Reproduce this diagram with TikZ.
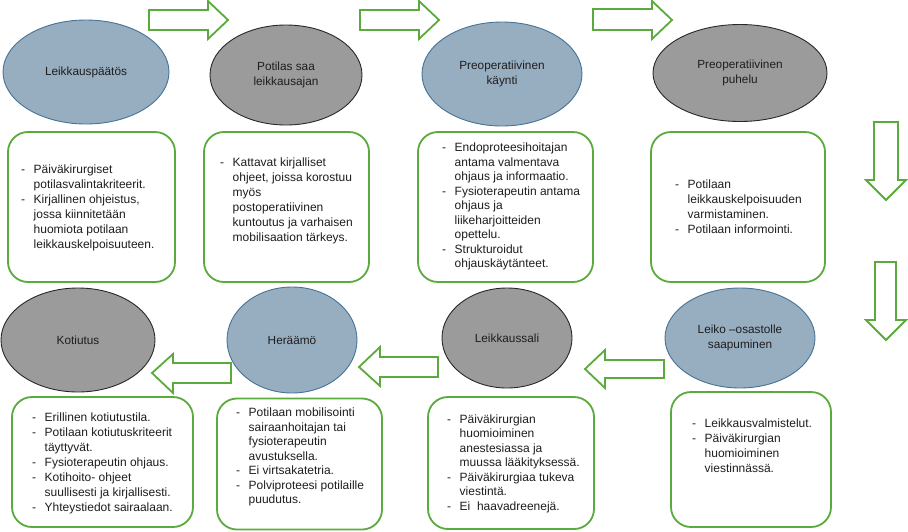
\documentclass[tikz,border=0pt]{standalone}
\usepackage{fontspec}
\setmainfont{Liberation Sans}
\usetikzlibrary{shapes.geometric}
\definecolor{bluefill}{RGB}{151,173,192}
\definecolor{bluedraw}{RGB}{70,115,150}
\definecolor{grayfill}{RGB}{155,155,155}
\definecolor{graydraw}{RGB}{40,40,40}
\definecolor{arrgreen}{RGB}{90,170,60}
\definecolor{txt}{RGB}{30,30,30}
\tikzset{
  ellblue/.style={ellipse, draw=bluedraw, fill=bluefill, line width=0.9pt, inner sep=0pt, align=center, text=txt, font=\fontsize{11.8}{15}\selectfont},
  ellgray/.style={ellipse, draw=graydraw, fill=grayfill, line width=0.9pt, inner sep=0pt, align=center, text=txt, font=\fontsize{11.8}{15}\selectfont},
  greenbox/.style={draw=arrgreen, line width=1.8pt, rounded corners=20pt, inner sep=0pt},
  txtblk/.style={anchor=west, inner sep=0pt, text=txt, font=\fontsize{12}{15}\selectfont},
  txtblkb/.style={anchor=west, inner sep=0pt, text=txt, font=\fontsize{12}{14.5}\selectfont},
  blockarr/.style={draw=arrgreen, line width=1.8pt, fill=white, line join=miter}
}
\newcommand{\tabstart}{\begin{tabular}{@{}l@{\hspace{8.5pt}}l@{}}}
\begin{document}
\begin{tikzpicture}[x=1pt, y=-1pt]
\useasboundingbox (0,0) rectangle (908,531);
\fill[white] (0,0) rectangle (908,531);

% ellipses
\node[ellblue, minimum width=166pt, minimum height=104pt] (e1) at (86,72) {Leikkauspäätös};
\node[ellgray, minimum width=152pt, minimum height=100pt] (e2) at (286,75) {Potilas saa\\leikkausajan};
\node[ellblue, minimum width=160pt, minimum height=104pt] (e3) at (502,74) {Preoperatiivinen\\käynti};
\node[ellgray, minimum width=174pt, minimum height=97pt] (e4) at (740,73) {Preoperatiivinen\\puhelu};
\node[ellgray, minimum width=154pt, minimum height=104pt] (e5) at (78,340) {Kotiutus};
\node[ellblue, minimum width=130pt, minimum height=106pt] (e6) at (292,340) {Heräämö};
\node[ellgray, minimum width=130pt, minimum height=100pt] (e7) at (507,338) {Leikkaussali};
\node[ellblue, minimum width=150pt, minimum height=100pt] (e8) at (740,338) {Leiko –osastolle\\saapuminen};

% boxes
\node[greenbox, minimum width=167pt, minimum height=150pt] (b1) at (91.5,207) {};
\node[greenbox, minimum width=165pt, minimum height=150pt] (b2) at (286.5,207) {};
\node[greenbox, minimum width=175pt, minimum height=150pt] (b3) at (505.5,207) {};
\node[greenbox, minimum width=174pt, minimum height=150pt] (b4) at (738,207) {};
\node[greenbox, minimum width=181pt, minimum height=130pt] (b5) at (102.5,462) {};
\node[greenbox, minimum width=165pt, minimum height=131pt] (b6) at (299.5,464) {};
\node[greenbox, minimum width=166pt, minimum height=132pt] (b7) at (511,463) {};
\node[greenbox, minimum width=160pt, minimum height=135pt] (b8) at (751,459.5) {};

% texts
\node[txtblk] (t1) at (21,207.5) {\tabstart
- & Päiväkirurgiset\\
  & potilasvalintakriteerit.\\
- & Kirjallinen ohjeistus,\\
  & jossa kiinnitetään\\
  & huomiota potilaan\\
  & leikkauskelpoisuuteen.
\end{tabular}};
\node[txtblk] (t2) at (220,200.5) {\tabstart
- & Kattavat kirjalliset\\
  & ohjeet, joissa korostuu\\
  & myös\\
  & postoperatiivinen\\
  & kuntoutus ja varhaisen\\
  & mobilisaation tärkeys.
\end{tabular}};
\node[txtblkb] (t3) at (442,207) {\tabstart
- & Endoproteesihoitajan\\
  & antama valmentava\\
  & ohjaus ja informaatio.\\
- & Fysioterapeutin antama\\
  & ohjaus ja\\
  & liikeharjoitteiden\\
  & opettelu.\\
- & Strukturoidut\\
  & ohjauskäytänteet.
\end{tabular}};
\node[txtblk] (t4) at (675,208) {\tabstart
- & Potilaan\\
  & leikkauskelpoisuuden\\
  & varmistaminen.\\
- & Potilaan informointi.
\end{tabular}};
\node[txtblk] (t5) at (32,463) {\tabstart
- & Erillinen kotiutustila.\\
- & Potilaan kotiutuskriteerit\\
  & täyttyvät.\\
- & Fysioterapeutin ohjaus.\\
- & Kotihoito- ohjeet\\
  & suullisesti ja kirjallisesti.\\
- & Yhteystiedot sairaalaan.
\end{tabular}};
\node[txtblkb] (t6) at (236,457.5) {\tabstart
- & Potilaan mobilisointi\\
  & sairaanhoitajan tai\\
  & fysioterapeutin\\
  & avustuksella.\\
- & Ei virtsakatetria.\\
- & Polviproteesi potilaille\\
  & puudutus.
\end{tabular}};
\node[txtblkb] (t7) at (447,464) {\tabstart
- & Päiväkirurgian\\
  & huomioiminen\\
  & anestesiassa ja\\
  & muussa lääkityksessä.\\
- & Päiväkirurgiaa tukeva\\
  & viestintä.\\
- & Ei\ \ haavadreenejä.
\end{tabular}};
\node[txtblk] (t8) at (692,446.5) {\tabstart
- & Leikkausvalmistelut.\\
- & Päiväkirurgian\\
  & huomioiminen\\
  & viestinnässä.
\end{tabular}};

% block arrows (right)
\draw[blockarr] (149,10) -- (208,10) -- (208,1) -- (228,20) -- (208,39) -- (208,30) -- (149,30) -- cycle;
\draw[blockarr] (360,10) -- (419,10) -- (419,1) -- (439,20) -- (419,39) -- (419,30) -- (360,30) -- cycle;
\draw[blockarr] (593,9) -- (652,9) -- (652,1) -- (672,20) -- (652,39) -- (652,30) -- (593,30) -- cycle;
% block arrows (down)
\draw[blockarr] (874,122) -- (898,122) -- (898,180) -- (906,180) -- (886,200) -- (866,180) -- (874,180) -- cycle;
\draw[blockarr] (875,262) -- (896,262) -- (896,320) -- (906,320) -- (886,340) -- (866,320) -- (875,320) -- cycle;
% block arrows (left)
\draw[blockarr] (664,360) -- (605,360) -- (605,350) -- (585,369) -- (605,388) -- (605,378) -- (664,378) -- cycle;
\draw[blockarr] (438,357) -- (380,357) -- (380,347) -- (359,367) -- (380,386) -- (380,377) -- (438,377) -- cycle;
\draw[blockarr] (231,363) -- (173,363) -- (173,354) -- (152,373) -- (173,393) -- (173,383) -- (231,383) -- cycle;
\end{tikzpicture}
\end{document}
